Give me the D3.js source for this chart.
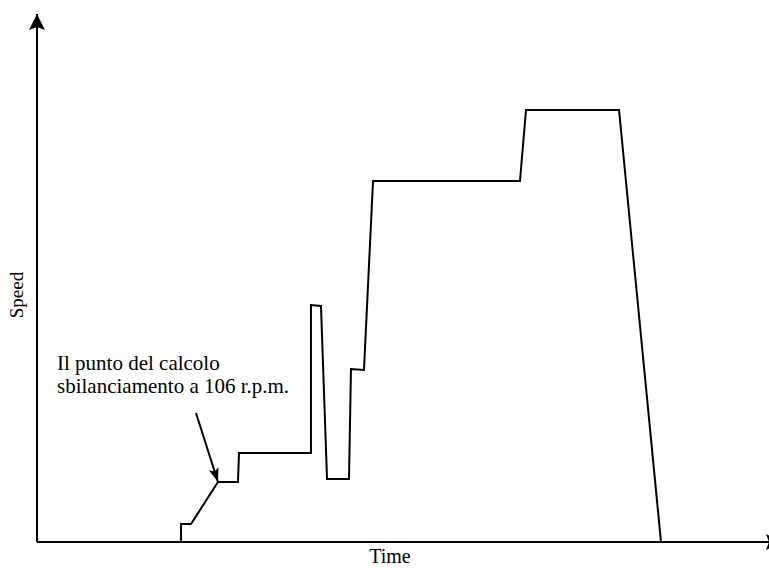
<!DOCTYPE html>
<html>
<head>
<meta charset="utf-8">
<script src="https://cdn.jsdelivr.net/npm/d3@7/dist/d3.min.js"></script>
<style>
  html, body { margin: 0; padding: 0; background: #fff; overflow: hidden; }
  svg { display: block; }
</style>
</head>
<body>
<svg id="chart" width="769" height="568"></svg>
<script>
// Profile of the machine speed over time (arbitrary units 0..100)
const timeValues  = [19.73, 19.73, 21.10, 24.79, 27.53, 27.67, 37.53, 37.53, 38.90, 39.73, 42.74, 43.01, 44.79, 46.03, 66.16, 66.99, 79.73, 85.48];
const speedValues = [0,     3.41,  3.41,  11.36, 11.36, 16.86, 16.86, 44.89, 44.70, 11.93, 11.93, 32.77, 32.58, 68.37, 68.37, 81.82, 81.82, 0];

const xLabel = "Time";
const yLabel = "Speed";
const annotationLines = ["Il punto del calcolo", "sbilanciamento a 106 r.p.m."];
const annotationFrom = [21.78, 24.43];   // arrow start (time, speed)
const annotationTo   = [24.79, 11.36];   // arrow tip: point at 106 r.p.m.

const FONT = "'Liberation Serif', 'Times New Roman', Times, 'DejaVu Serif', serif";

const svg = d3.select("#chart");
const x = d3.scaleLinear().domain([0, 100]).range([37, 767]);
const y = d3.scaleLinear().domain([0, 100]).range([542, 14]);

const defs = svg.append("defs");
defs.append("marker")
  .attr("id", "axisArrow")
  .attr("viewBox", "0 0 16 16")
  .attr("refX", 16).attr("refY", 8)
  .attr("markerWidth", 16).attr("markerHeight", 16)
  .attr("markerUnits", "userSpaceOnUse")
  .attr("orient", "auto")
  .append("path").attr("d", "M0,0 L16,8 L0,16 L3,8 Z").attr("fill", "#000");

defs.append("marker")
  .attr("id", "annArrow")
  .attr("viewBox", "0 0 14 10")
  .attr("refX", 14).attr("refY", 5)
  .attr("markerWidth", 14).attr("markerHeight", 10)
  .attr("markerUnits", "userSpaceOnUse")
  .attr("orient", "auto")
  .append("path").attr("d", "M0,0 L14,5 L0,10 L3,5 Z").attr("fill", "#000");

// Axes
svg.append("line")
  .attr("x1", x(0)).attr("y1", y(0))
  .attr("x2", x(0)).attr("y2", y(100))
  .attr("stroke", "#000").attr("stroke-width", 2)
  .attr("marker-end", "url(#axisArrow)");
svg.append("line")
  .attr("x1", x(0)).attr("y1", y(0))
  .attr("x2", 782).attr("y2", y(0))
  .attr("stroke", "#000").attr("stroke-width", 2)
  .attr("marker-end", "url(#axisArrow)");

// Speed profile
const pts = timeValues.map((t, i) => [t, speedValues[i]]);
const line = d3.line().x(d => x(d[0])).y(d => y(d[1]));
svg.append("path")
  .datum(pts)
  .attr("d", line)
  .attr("fill", "none")
  .attr("stroke", "#000")
  .attr("stroke-width", 2)
  .attr("stroke-linejoin", "miter");

// Axis labels
svg.append("text")
  .attr("x", 390).attr("y", 563)
  .attr("text-anchor", "middle")
  .attr("font-family", FONT)
  .attr("font-size", 20)
  .attr("fill", "#000")
  .text(xLabel);
svg.append("text")
  .attr("transform", "translate(23,295) rotate(-90)")
  .attr("text-anchor", "middle")
  .attr("font-family", FONT)
  .attr("font-size", 19)
  .attr("fill", "#000")
  .text(yLabel);

// Annotation
const ann = svg.append("text")
  .attr("font-family", FONT)
  .attr("font-size", 21)
  .attr("fill", "#000");
annotationLines.forEach((s, i) => {
  ann.append("tspan").attr("x", 57).attr("y", 370 + i * 22.5).text(s);
});
svg.append("line")
  .attr("x1", x(annotationFrom[0])).attr("y1", y(annotationFrom[1]))
  .attr("x2", x(annotationTo[0])).attr("y2", y(annotationTo[1]))
  .attr("stroke", "#000").attr("stroke-width", 2)
  .attr("marker-end", "url(#annArrow)");
</script>
</body>
</html>
